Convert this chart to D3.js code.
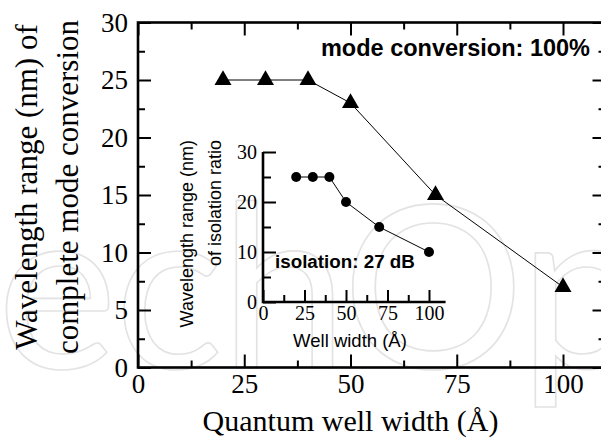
<!DOCTYPE html>
<html>
<head>
<meta charset="utf-8">
<script src="https://cdn.jsdelivr.net/npm/d3@7/dist/d3.min.js"></script>
<style>
  html, body { margin: 0; padding: 0; background: #fff; }
  svg { display: block; }
  .serif { font-family: "Liberation Serif", "Times New Roman", serif; }
  .sans { font-family: "Liberation Sans", Arial, sans-serif; }
</style>
</head>
<body>
<svg id="chart" width="601" height="438"></svg>
<script>
// Main series: wavelength range of complete mode conversion vs. quantum well width
const wellWidth = [20, 30, 40, 50, 70, 100];
const modeRange = [25, 25, 25, 23, 15, 7];

// Inset series: wavelength range of isolation ratio vs. well width
const insetWidth = [20, 30, 40, 50, 70, 100];
const isolationRange = [25, 25, 25, 20, 15, 10];

// Tick values
const mainXTicks = [0, 25, 50, 75, 100];
const mainXMinor = [12.5, 37.5, 62.5, 87.5];
const mainYTicks = [0, 5, 10, 15, 20, 25, 30];
const mainYMinor = [2.5, 7.5, 12.5, 17.5, 22.5, 27.5];
const insetXTicks = [0, 25, 50, 75, 100];
const insetXMinor = [12.5, 37.5, 62.5, 87.5];
const insetYTicks = [0, 10, 20, 30];
const insetYMinor = [5, 15, 25];

const svg = d3.select("#chart");

// faint publisher watermark behind the plot
svg.append("clipPath").attr("id", "page")
  .append("rect").attr("width", 601).attr("height", 438);
svg.append("text")
  .attr("clip-path", "url(#page)")
  .attr("x", -3).attr("y", 368)
  .attr("font-family", "Lato, 'DejaVu Sans', sans-serif")
  .attr("font-size", 228)
  .attr("letter-spacing", -3)
  .attr("fill", "none")
  .attr("stroke", "#e3e3e3")
  .attr("stroke-width", 1.6)
  .text("echOp");

// ---------- main plot ----------
const x = d3.scaleLinear().domain([0, 110]).range([138, 605.5]);
const y = d3.scaleLinear().domain([0, 30]).range([367.5, 22.5]);

const main = svg.append("g");

function styleAxis(g, size) {
  g.select(".domain").remove();
  g.selectAll(".tick line").attr("stroke", "#000").attr("stroke-width", 2);
  g.selectAll(".tick text")
    .filter(function () { return this.textContent === ""; }).remove();
  g.selectAll(".tick text")
    .attr("font-family", "'Liberation Serif', 'Times New Roman', serif")
    .attr("font-size", size)
    .attr("fill", "#000");
}

function addAxis(parent, axis, tx, ty, size) {
  parent.append("g").attr("transform", `translate(${tx},${ty})`)
    .call(axis)
    .call(g => styleAxis(g, size));
}

// bottom
addAxis(main, d3.axisBottom(x).tickValues(mainXTicks).tickSizeInner(-13).tickSizeOuter(0).tickPadding(6).tickFormat(d3.format("d")), 0, y(0), 27);
addAxis(main, d3.axisBottom(x).tickValues(mainXMinor).tickSizeInner(-7).tickSizeOuter(0).tickFormat(""), 0, y(0), 27);
// top
addAxis(main, d3.axisTop(x).tickValues(mainXTicks).tickSizeInner(-13).tickSizeOuter(0).tickFormat(""), 0, y(30), 27);
addAxis(main, d3.axisTop(x).tickValues(mainXMinor).tickSizeInner(-7).tickSizeOuter(0).tickFormat(""), 0, y(30), 27);
// left
addAxis(main, d3.axisLeft(y).tickValues(mainYTicks).tickSizeInner(-13).tickSizeOuter(0).tickPadding(10).tickFormat(d3.format("d")), x(0), 0, 27);
addAxis(main, d3.axisLeft(y).tickValues(mainYMinor).tickSizeInner(-7).tickSizeOuter(0).tickFormat(""), x(0), 0, 27);
// right
addAxis(main, d3.axisRight(y).tickValues(mainYTicks).tickSizeInner(-13).tickSizeOuter(0).tickFormat(""), x(110), 0, 27);
addAxis(main, d3.axisRight(y).tickValues(mainYMinor).tickSizeInner(-7).tickSizeOuter(0).tickFormat(""), x(110), 0, 27);

// plot frame
main.append("rect")
  .attr("x", x(0)).attr("y", y(30))
  .attr("width", x(110) - x(0)).attr("height", y(0) - y(30))
  .attr("fill", "none").attr("stroke", "#000").attr("stroke-width", 2.6);

// data line + triangles
main.append("path")
  .datum(wellWidth.map((w, i) => [w, modeRange[i]]))
  .attr("fill", "none").attr("stroke", "#000").attr("stroke-width", 1)
  .attr("d", d3.line().x(d => x(d[0])).y(d => y(d[1])));

main.selectAll(".tri")
  .data(wellWidth.map((w, i) => [w, modeRange[i]]))
  .join("path")
  .attr("class", "tri")
  .attr("transform", d => `translate(${x(d[0])},${y(d[1])})`)
  .attr("d", d3.symbol(d3.symbolTriangle, 125))
  .attr("fill", "#000");

// axis titles
svg.append("text")
  .attr("class", "serif")
  .attr("x", x(50)).attr("y", 431)
  .attr("text-anchor", "middle")
  .attr("font-size", 30)
  .text("Quantum well width (Å)");

const yTitle = svg.append("text")
  .attr("class", "serif")
  .attr("transform", "translate(0,187) rotate(-90)")
  .attr("text-anchor", "middle")
  .attr("font-size", 31);
yTitle.append("tspan").attr("x", 0).attr("y", 37).text("Wavelength range (nm) of");
yTitle.append("tspan").attr("x", 0).attr("y", 78).text("complete mode conversion");

svg.append("text")
  .attr("class", "sans")
  .attr("x", 590).attr("y", 56)
  .attr("text-anchor", "end")
  .attr("font-size", 23.5)
  .attr("font-weight", "bold")
  .text("mode conversion: 100%");

// ---------- inset ----------
const xi = d3.scaleLinear().domain([0, 110]).range([263, 445.6]);
const yi = d3.scaleLinear().domain([0, 30]).range([302, 152]);
const inset = svg.append("g");

addAxis(inset, d3.axisBottom(xi).tickValues(insetXTicks).tickSizeInner(-12).tickSizeOuter(0).tickPadding(4).tickFormat(d3.format("d")), 0, yi(0), 20);
addAxis(inset, d3.axisBottom(xi).tickValues(insetXMinor).tickSizeInner(-7).tickSizeOuter(0).tickFormat(""), 0, yi(0), 20);
addAxis(inset, d3.axisLeft(yi).tickValues(insetYTicks).tickSizeInner(-13).tickSizeOuter(0).tickPadding(6).tickFormat(d3.format("d")), xi(0), 0, 20);
addAxis(inset, d3.axisLeft(yi).tickValues(insetYMinor).tickSizeInner(-8).tickSizeOuter(0).tickFormat(""), xi(0), 0, 20);

inset.append("path")
  .attr("fill", "none").attr("stroke", "#000").attr("stroke-width", 2.6)
  .attr("d", `M${xi(0)},${yi(30)}V${yi(0)}H${xi(110)}`);

inset.append("path")
  .datum(insetWidth.map((w, i) => [w, isolationRange[i]]))
  .attr("fill", "none").attr("stroke", "#000").attr("stroke-width", 1)
  .attr("d", d3.line().x(d => xi(d[0])).y(d => yi(d[1])));

inset.selectAll(".dot")
  .data(insetWidth.map((w, i) => [w, isolationRange[i]]))
  .join("circle")
  .attr("class", "dot")
  .attr("cx", d => xi(d[0])).attr("cy", d => yi(d[1]))
  .attr("r", 5)
  .attr("fill", "#000");

svg.append("text")
  .attr("class", "sans")
  .attr("x", 350).attr("y", 347)
  .attr("text-anchor", "middle")
  .attr("font-size", 18.5)
  .text("Well width (Å)");

const yiTitle = svg.append("text")
  .attr("class", "sans")
  .attr("transform", "translate(0,140) rotate(-90)")
  .attr("text-anchor", "end")
  .attr("font-size", 18);
yiTitle.append("tspan").attr("x", 0).attr("y", 193).text("Wavelength range (nm)");
yiTitle.append("tspan").attr("x", 0).attr("y", 221).text("of isolation ratio");

svg.append("text")
  .attr("class", "sans")
  .attr("x", 275).attr("y", 268)
  .attr("font-size", 18.8)
  .attr("font-weight", "bold")
  .text("isolation: 27 dB");
</script>
</body>
</html>
